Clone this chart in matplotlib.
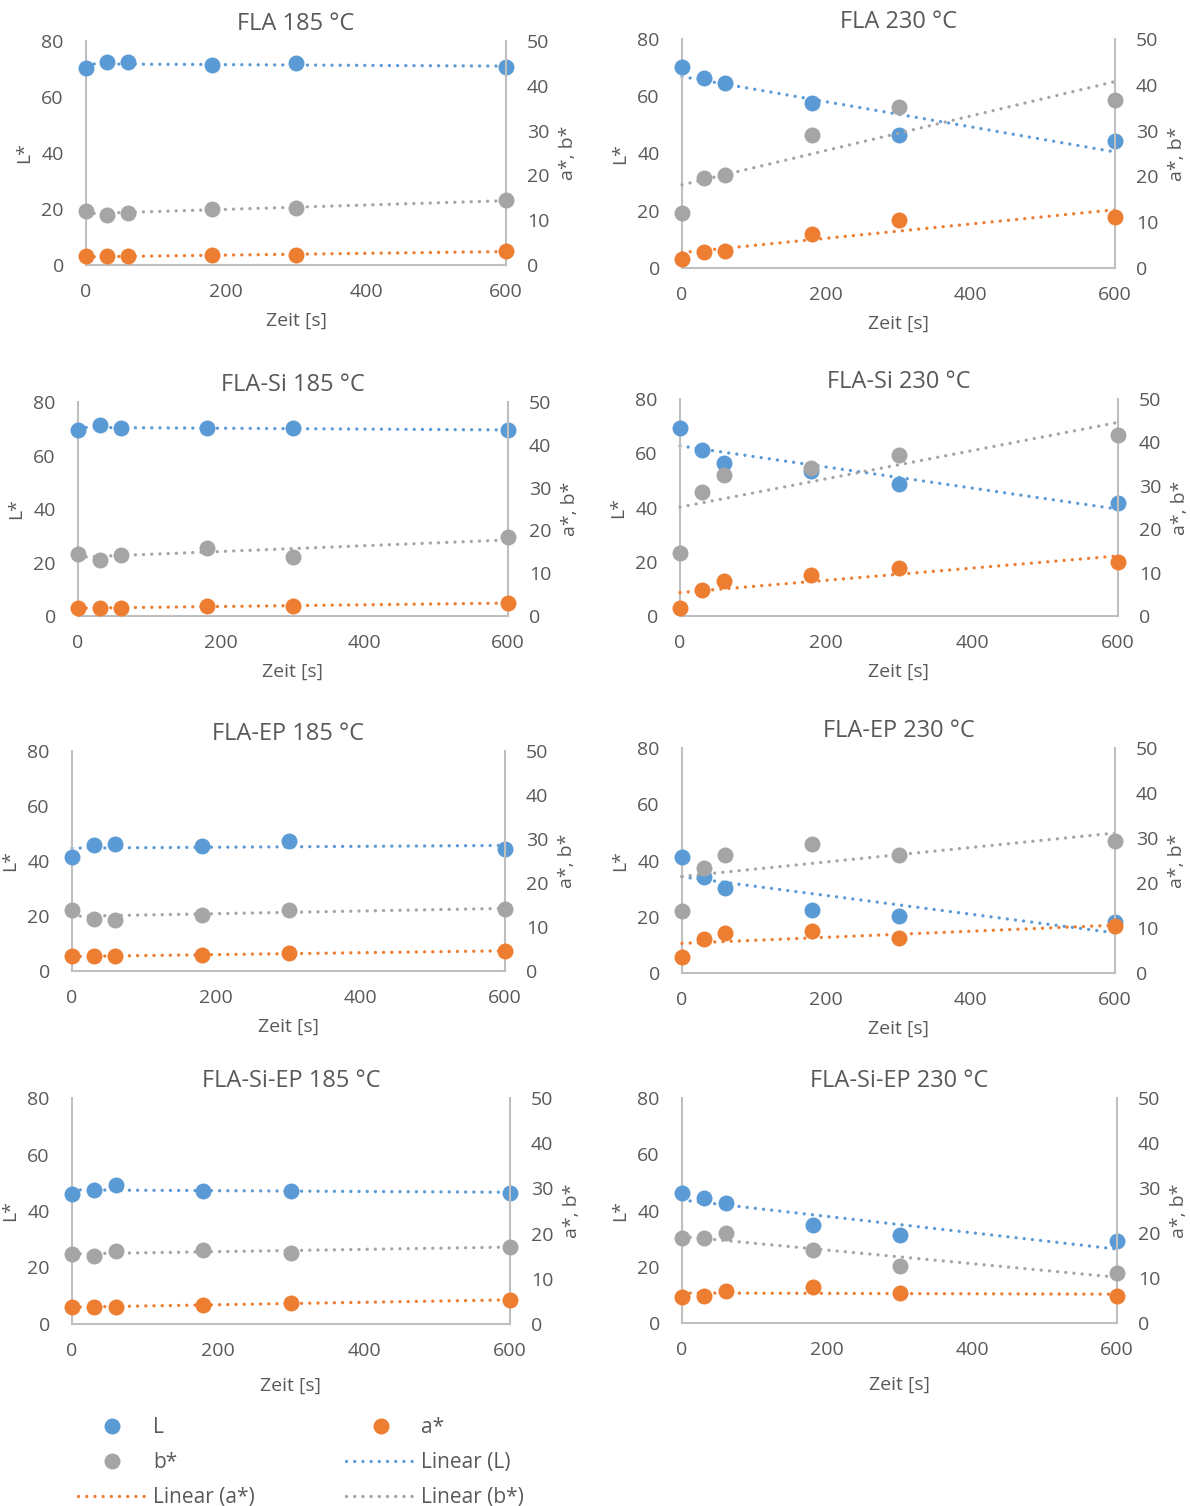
import numpy as np
import matplotlib
matplotlib.use('Agg')
import matplotlib.pyplot as plt
from matplotlib.lines import Line2D

plt.rcParams['font.family'] = ['Open Sans', 'DejaVu Sans']

# Messzeitpunkte
zeit = [0, 30, 60, 180, 300, 600]

titel = ['FLA 185 °C', 'FLA 230 °C', 'FLA-Si 185 °C', 'FLA-Si 230 °C',
         'FLA-EP 185 °C', 'FLA-EP 230 °C', 'FLA-Si-EP 185 °C', 'FLA-Si-EP 230 °C']

# L* (linke Achse)
L_fla_185 = [70.4, 72.4, 72.4, 71.4, 72.2, 70.6]
L_fla_230 = [70.1, 66.4, 64.8, 57.6, 46.4, 44.5]
L_si_185 = [69.7, 71.3, 70.3, 70.2, 70.3, 69.4]
L_si_230 = [69.3, 61.3, 56.4, 53.5, 48.6, 41.7]
L_ep_185 = [41.3, 45.7, 46.2, 45.3, 47.1, 44.4]
L_ep_230 = [41.1, 34.1, 30.2, 22.5, 20.3, 18.1]
L_siep_185 = [46.0, 47.4, 49.2, 47.0, 47.1, 46.5]
L_siep_230 = [46.1, 44.4, 42.7, 34.7, 31.3, 29.1]

# a* (rechte Achse)
a_fla_185 = [1.9, 1.9, 1.9, 2.2, 2.2, 3.1]
a_fla_230 = [2.0, 3.6, 3.8, 7.4, 10.5, 11.2]
a_si_185 = [1.9, 1.8, 1.9, 2.3, 2.4, 3.0]
a_si_230 = [1.9, 5.9, 8.1, 9.5, 11.0, 12.5]
a_ep_185 = [3.5, 3.3, 3.3, 3.6, 4.0, 4.6]
a_ep_230 = [3.5, 7.6, 8.9, 9.3, 7.7, 10.4]
a_siep_185 = [3.8, 3.8, 3.7, 4.3, 4.6, 5.3]
a_siep_230 = [5.8, 5.9, 7.2, 8.1, 6.6, 5.9]

# b* (rechte Achse)
b_fla_185 = [12.0, 11.1, 11.6, 12.5, 12.8, 14.4]
b_fla_230 = [12.1, 19.6, 20.4, 29.1, 35.1, 36.6]
b_si_185 = [14.6, 13.2, 14.3, 16.0, 13.7, 18.5]
b_si_230 = [14.5, 28.5, 32.4, 34.2, 37.2, 41.8]
b_ep_185 = [13.8, 11.9, 11.7, 12.7, 13.8, 14.2]
b_ep_230 = [13.8, 23.3, 26.2, 28.7, 26.2, 29.4]
b_siep_185 = [15.5, 15.1, 16.1, 16.4, 15.8, 17.1]
b_siep_230 = [19.0, 18.8, 19.9, 16.2, 12.7, 11.1]

L_alle = [L_fla_185, L_fla_230, L_si_185, L_si_230, L_ep_185, L_ep_230, L_siep_185, L_siep_230]
a_alle = [a_fla_185, a_fla_230, a_si_185, a_si_230, a_ep_185, a_ep_230, a_siep_185, a_siep_230]
b_alle = [b_fla_185, b_fla_230, b_si_185, b_si_230, b_ep_185, b_ep_230, b_siep_185, b_siep_230]

blau = '#5B9BD5'
orange = '#ED7D31'
grau = '#A5A5A5'
text_c = '#595959'
achse_c = '#BFBFBF'

W, H = 1190, 1506
# Plotbereiche in Pixel: x0, x1, y(80), y(0)
boxen = [(86, 506, 41, 265), (682, 1115, 39, 268),
         (78, 508, 402, 616), (680, 1118, 399, 616),
         (72, 505, 751, 971), (682, 1115, 748, 973),
         (72, 510, 1098, 1324), (682, 1117, 1098, 1323)]

fig = plt.figure(figsize=(W / 100, H / 100), dpi=100)

dotted = (0, (0.01, 2.45))
lw_t = 2.4


def trend(ax, x, y, farbe):
    k, d = np.polyfit(x, y, 1)
    xs = np.array([0, 600])
    ax.plot(xs, k * xs + d, color=farbe, lw=lw_t, linestyle=dotted,
            dash_capstyle='round', clip_on=False, zorder=2)


for i in range(8):
    x0, x1, yt, yb = boxen[i]
    ax = fig.add_axes([x0 / W, 1 - yb / H, (x1 - x0) / W, (yb - yt) / H])
    ax2 = ax.twinx()

    ax.plot(zeit, L_alle[i], 'o', color=blau, ms=11.5, mew=0, clip_on=False, zorder=3)
    trend(ax, zeit, L_alle[i], blau)

    ax2.plot(zeit, a_alle[i], 'o', color=orange, ms=11.5, mew=0, clip_on=False, zorder=3)
    ax2.plot(zeit, b_alle[i], 'o', color=grau, ms=11.5, mew=0, clip_on=False, zorder=3)
    trend(ax2, zeit, a_alle[i], orange)
    trend(ax2, zeit, b_alle[i], grau)

    ax.set_xlim(0, 600)
    ax.set_ylim(0, 80)
    ax2.set_ylim(0, 50)
    ax.set_xticks([0, 200, 400, 600])
    ax.set_yticks([0, 20, 40, 60, 80])
    ax2.set_yticks([0, 10, 20, 30, 40, 50])

    for a in (ax, ax2):
        for s in a.spines.values():
            s.set_visible(False)
        a.tick_params(length=0, labelsize=14, colors=text_c)
    ax.spines['left'].set_visible(True)
    ax.spines['bottom'].set_visible(True)
    ax2.spines['right'].set_visible(True)
    for s in (ax.spines['left'], ax.spines['bottom'], ax2.spines['right']):
        s.set_color(achse_c)
        s.set_linewidth(1.5)
    ax.tick_params(axis='y', pad=16)
    ax2.tick_params(axis='y', pad=15)
    ax.tick_params(axis='x', pad=13)

    ax.set_title(titel[i], fontsize=17, color=text_c, pad=8)
    ax.set_ylabel('L*', fontsize=14, color=text_c, labelpad=6)
    ax2.set_ylabel('a*, b*', fontsize=14, color=text_c, labelpad=7)
    ax.set_xlabel('Zeit [s]', fontsize=14, color=text_c, labelpad=12 if i >= 6 else 8)

# Legende
h_L = Line2D([], [], marker='o', color=blau, ls='none', ms=11.5, mew=0)
h_a = Line2D([], [], marker='o', color=orange, ls='none', ms=11.5, mew=0)
h_b = Line2D([], [], marker='o', color=grau, ls='none', ms=11.5, mew=0)
h_lL = Line2D([], [], color=blau, lw=lw_t, ls=dotted, dash_capstyle='round')
h_la = Line2D([], [], color=orange, lw=lw_t, ls=dotted, dash_capstyle='round')
h_lb = Line2D([], [], color=grau, lw=lw_t, ls=dotted, dash_capstyle='round')

leg = fig.legend([h_L, h_b, h_la, h_a, h_lL, h_lb],
                 ['L', 'b*', 'Linear (a*)', 'a*', 'Linear (L)', 'Linear (b*)'],
                 ncol=2, loc='upper left', bbox_to_anchor=(78 / W, 1 - 1417 / H),
                 frameon=False, fontsize=15, handlelength=3.3, handletextpad=0.3,
                 columnspacing=4.4, labelspacing=0.68, borderpad=0, borderaxespad=0)
for t in leg.get_texts():
    t.set_color(text_c)

fig.savefig('out.png', dpi=100)
